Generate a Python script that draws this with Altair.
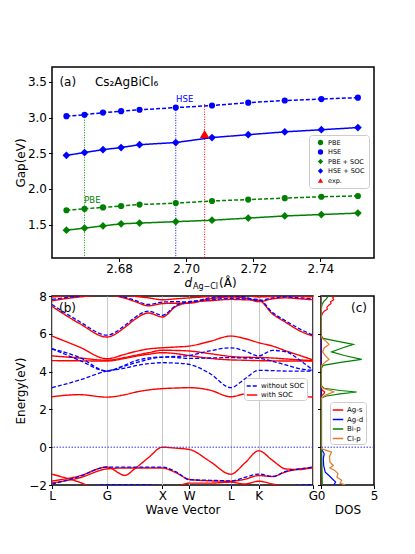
import altair as alt
import pandas as pd

FONT = "DejaVu Sans"

# ================= panel (a) data =================
d_agcl = [2.6643, 2.6697, 2.6752, 2.6806, 2.6861, 2.6969, 2.7077, 2.7185, 2.7294, 2.7403, 2.7512]
gap_pbe = [1.70, 1.72, 1.74, 1.76, 1.78, 1.80, 1.83, 1.85, 1.87, 1.89, 1.90]
gap_hse = [3.02, 3.04, 3.07, 3.09, 3.11, 3.14, 3.17, 3.21, 3.24, 3.26, 3.28]
gap_pbe_soc = [1.42, 1.45, 1.48, 1.51, 1.52, 1.54, 1.56, 1.59, 1.62, 1.64, 1.66]
gap_hse_soc = [2.47, 2.51, 2.55, 2.58, 2.62, 2.65, 2.72, 2.76, 2.80, 2.83, 2.86]
exp_d = [2.7055]
exp_gap = [2.77]
series_names = ["PBE", "HSE", "PBE + SOC", "HSE + SOC", "exp."]
series_colors = ["green", "blue", "green", "blue", "red"]
series_shapes = ["circle", "circle", "diamond", "diamond", "triangle-up"]
series_sizes = [38, 38, 60, 60, 90]
series_dash = [[4, 2], [4, 2], [1, 0], [1, 0], [1, 0]]

guide_d = [2.6697, 2.6969, 2.7055]
guide_top = [3.04, 3.14, 3.19]
guide_colors = ["green", "blue", "red"]
gap_axis = [1.03, 3.71]
d_axis = [2.660, 2.756]
a_ticks_x = [2.68, 2.70, 2.72, 2.74]
a_ticks_y = [1.5, 2.0, 2.5, 3.0, 3.5]

ann_text = ["HSE", "PBE"]
ann_d = [2.6970, 2.6696]
ann_gap = [3.26, 1.84]
ann_col = ["blue", "green"]

# ================= panel (b) data =================
k_path = [0.0, 0.105, 0.21, 0.28, 0.316, 0.37, 0.423, 0.475, 0.526, 0.605,
          0.685, 0.738, 0.792, 0.845, 0.896, 0.95, 1.0]
k_tick_pos = [0.0, 0.21, 0.423, 0.526, 0.685, 0.792, 1.0]
k_tick_lab = ["L", "G", "X", "W", "L", "K", "G"]
e_ticks = [-2, 0, 2, 4, 6, 8]

bands_soc = {
    "r1": [2.67, 2.78, 2.65, 2.78, 2.90, 3.03, 3.10, 3.13, 3.15, 3.02, 2.67, 2.82, 2.87, 2.85, 2.78, 2.70, 2.65],
    "r2": [4.58, 4.57, 4.56, 4.70, 4.80, 4.92, 5.00, 4.95, 4.85, 4.70, 4.62, 4.60, 4.58, 4.57, 4.56, 4.56, 4.56],
    "r3": [4.83, 4.72, 4.60, 4.75, 4.85, 5.00, 5.13, 5.12, 5.09, 4.95, 4.80, 4.76, 4.75, 4.72, 4.67, 4.62, 4.58],
    "r4": [5.88, 5.30, 4.68, 4.92, 5.05, 5.20, 5.26, 5.30, 5.35, 5.60, 5.88, 5.75, 5.53, 5.35, 5.10, 4.85, 4.62],
    "r5": [7.45, 6.55, 5.83, 6.35, 6.75, 7.10, 6.89, 7.45, 7.65, 7.75, 7.82, 7.80, 7.77, 7.05, 6.60, 6.15, 5.88],
    "r6": [7.75, 7.95, 8.05, 7.88, 7.72, 7.48, 7.60, 7.62, 7.62, 7.85, 7.95, 7.90, 7.70, 7.85, 7.90, 7.85, 7.80],
    "r7": [7.95, 8.05, 8.10, 8.02, 7.98, 7.90, 7.80, 7.85, 7.90, 7.98, 8.10, 8.05, 7.95, 7.98, 8.00, 7.98, 7.95],
    "va": [-1.43, -1.85, -2.40, -2.40, -2.40, -2.40, -2.40, -2.40, -2.40, -2.40, -2.40, -2.40, -2.40, -2.40, -2.40, -2.40, -2.40],
    "vb": [-1.79, -1.52, -1.05, -1.49, -1.15, -0.55, 0.00, -0.05, -0.12, -0.75, -1.43, -0.85, -0.19, -0.70, -1.15, -1.18, -1.05],
    "vc": [-1.89, -1.62, -1.15, -1.10, -1.10, -1.10, -1.10, -1.35, -1.70, -1.78, -1.80, -1.70, -1.50, -1.55, -1.30, -1.15, -1.10],
    "vd": [-2.20, -2.30, -2.40, -2.40, -2.40, -2.40, -2.30, -2.10, -1.90, -1.90, -1.85, -1.95, -1.80, -1.95, -2.10, -2.20, -2.30],
}
bands_nosoc = {
    "b1": [3.15, 3.55, 4.03, 4.18, 4.30, 4.42, 4.47, 4.45, 4.38, 3.90, 3.15, 3.60, 4.07, 4.05, 4.03, 4.03, 4.03],
    "b2": [5.21, 4.75, 4.03, 4.30, 4.45, 4.65, 4.77, 4.80, 4.85, 5.10, 5.26, 5.10, 4.83, 5.12, 5.05, 4.60, 4.07],
    "b3": [5.21, 4.60, 4.03, 4.35, 4.55, 4.72, 4.77, 4.75, 4.70, 4.72, 4.74, 4.72, 4.70, 4.55, 4.35, 4.15, 4.07],
    "b5": [7.55, 6.65, 5.93, 6.45, 6.85, 7.20, 6.98, 7.50, 7.70, 7.80, 7.88, 7.85, 7.82, 7.12, 6.68, 6.25, 5.93],
    "b6": [7.82, 8.00, 8.10, 7.93, 7.78, 7.55, 7.68, 7.70, 7.68, 7.90, 8.00, 7.95, 7.75, 7.90, 7.95, 7.90, 7.85],
    "bv1": [-1.95, -1.55, -1.05, -1.05, -1.05, -1.05, -1.05, -1.30, -1.72, -1.75, -1.78, -1.60, -1.42, -1.55, -1.28, -1.15, -1.05],
    "bv2": [-2.30, -2.15, -1.98, -1.98, -1.98, -1.99, -2.05, -2.20, -2.30, -2.30, -2.00, -2.20, -2.30, -2.20, -2.05, -2.00, -1.98],
}
soc_names = ["without SOC", "with SOC"]
soc_colors = ["blue", "red"]

# ================= panel (c) data =================
orb_names = ["Ag-s", "Ag-d", "Bi-p", "Cl-p"]
orb_colors = ["red", "blue", "green", "#e07b2a"]
ags_E = [8.0, 7.9, 7.8, 7.7, 7.6, 7.5, 7.4, 7.3, 7.2, 7.1, 7.0, 6.85, 6.7, 3.1, 3.0, 2.92, 2.85, 2.75, 2.65, -2.0]
ags_D = [1.3, 1.1, 1.2, 0.9, 0.95, 0.7, 0.55, 0.6, 0.3, 0.15, 0.08, 0.02, 0.0, 0.0, 0.15, 0.35, 0.3, 0.1, 0.0, 0.0]
agd_E = [8.0, 0.05, -0.1, -0.35, -0.6, -0.97, -1.2, -1.32, -1.5, -1.67, -1.85, -2.0]
agd_D = [0.0, 0.0, 0.05, 0.3, 0.22, 0.25, 0.35, 0.4, 0.75, 1.06, 1.38, 1.2]
bip_E = [8.0, 7.85, 7.7, 7.55, 7.4, 7.2, 5.9, 5.76, 5.6, 5.44, 5.25, 5.04, 4.85, 4.65, 4.5, 4.33, 4.2,
         3.25, 3.12, 3.0, 2.92, 2.82, 2.71, 2.6, 0.1, -2.0]
bip_D = [0.7, 0.5, 0.25, 0.1, 0.05, 0.02, 0.02, 0.2, 1.6, 3.05, 2.0, 1.0, 2.2, 3.84, 2.0, 0.2, 0.05,
         0.02, 0.3, 1.8, 3.37, 1.8, 0.5, 0.05, 0.05, 0.12]
clp_E = [8.0, 5.9, 5.76, 5.6, 5.44, 5.25, 5.04, 4.85, 4.65, 4.5, 4.33, 4.2, 3.2, 3.1, 3.0, 2.92, 2.82, 2.71,
         2.6, 2.5, 0.05, -0.09, -0.26, -0.5, -0.79, -0.97, -1.1, -1.23, -1.4, -1.59, -1.75, -1.9, -2.0]
clp_D = [0.0, 0.0, 0.1, 0.5, 0.75, 0.3, 0.15, 0.4, 0.75, 0.4, 0.05, 0.0, 0.0, 0.3, 0.9, 1.2, 0.7, 0.3,
         0.05, 0.0, 0.0, 0.06, 1.0, 0.8, 0.85, 1.16, 0.85, 1.3, 1.6, 1.5, 1.95, 1.8, 2.3]
dos_axis = [0, 5]

# ================= build panel (a) =================
rows_a = []
for name, vals in zip(series_names[:4], [gap_pbe, gap_hse, gap_pbe_soc, gap_hse_soc]):
    for dv, gv in zip(d_agcl, vals):
        rows_a.append({"d": dv, "gap": gv, "series": name})
for dv, gv in zip(exp_d, exp_gap):
    rows_a.append({"d": dv, "gap": gv, "series": "exp."})
df_a = pd.DataFrame(rows_a)

xa_scale = alt.Scale(domain=d_axis, nice=False, zero=False)
ya_scale = alt.Scale(domain=gap_axis, nice=False, zero=False)
xa_axis = alt.Axis(values=a_ticks_x, format=".2f", title=None, labelFontSize=12)
ya_axis = alt.Axis(values=a_ticks_y, format=".1f", title="Gap(eV)", titleFontSize=12,
                   labelFontSize=12, titleX=-28, titleBaseline="alphabetic", titleAngle=270)
XA = alt.X("d:Q", scale=xa_scale, axis=xa_axis)
YA = alt.Y("gap:Q", scale=ya_scale, axis=ya_axis)

layers_a = []
for dv, tv, col in zip(guide_d, guide_top, guide_colors):
    gdf = pd.DataFrame({"d": [dv], "gap": [tv], "bottom": [gap_axis[0]]})
    layers_a.append(alt.Chart(gdf).mark_rule(color=col, strokeDash=[1, 1.5], strokeWidth=1)
                    .encode(x=XA, y=YA, y2="bottom:Q"))

for name, col, dash in zip(series_names[:4], series_colors[:4], series_dash[:4]):
    layers_a.append(alt.Chart(df_a[df_a["series"] == name]).mark_line(
        strokeWidth=1.5, color=col, strokeDash=dash).encode(x=XA, y=YA))

leg_a = alt.Legend(title=None, orient="none", legendX=257, legendY=68, labelFontSize=6.5, labelFont=FONT,
                   symbolSize=28, fillColor="white", strokeColor="#cccccc", padding=4, rowPadding=2.5,
                   cornerRadius=3, symbolOffset=4)
color_a = alt.Scale(domain=series_names, range=series_colors)
shape_a = alt.Scale(domain=series_names, range=series_shapes)
for size_val in sorted(set(series_sizes)):
    names_here = [n for n, s in zip(series_names, series_sizes) if s == size_val]
    layers_a.append(alt.Chart(df_a[df_a["series"].isin(names_here)]).mark_point(
        filled=True, opacity=1, size=size_val).encode(
        x=XA, y=YA,
        color=alt.Color("series:N", scale=color_a, legend=leg_a),
        shape=alt.Shape("series:N", scale=shape_a, legend=leg_a)))

for t, dv, gv, col in zip(ann_text, ann_d, ann_gap, ann_col):
    layers_a.append(alt.Chart(pd.DataFrame({"d": [dv], "gap": [gv], "t": [t]}))
                    .mark_text(align="left", baseline="middle", fontSize=8.5, font=FONT, color=col)
                    .encode(x=XA, y=YA, text="t:N"))

df_title_a = pd.DataFrame({"d": [2.6622, 2.6728], "gap": [3.50, 3.50], "t": ["(a)", "Cs₂AgBiCl₆"]})
layers_a.append(alt.Chart(df_title_a).mark_text(align="left", baseline="middle", fontSize=12, font=FONT,
                                                color="black").encode(x=XA, y=YA, text="t:N"))

layers_a.append(alt.Chart(pd.DataFrame({"t": ["d"]})).mark_text(
    fontSize=12, fontStyle="italic", font=FONT, align="right", baseline="middle", color="black")
    .encode(text="t:N", x=alt.value(140), y=alt.value(216)))
layers_a.append(alt.Chart(pd.DataFrame({"t": ["Ag−Cl"]})).mark_text(
    fontSize=8, font=FONT, align="left", baseline="middle", color="black")
    .encode(text="t:N", x=alt.value(141), y=alt.value(220)))
layers_a.append(alt.Chart(pd.DataFrame({"t": ["(Å)"]})).mark_text(
    fontSize=12, font=FONT, align="left", baseline="middle", color="black")
    .encode(text="t:N", x=alt.value(167), y=alt.value(216)))

panel_a = alt.layer(*layers_a).properties(width=322, height=191)

# ================= build panel (b) =================
rows_b = []
for name, vals in bands_soc.items():
    for kv, ev in zip(k_path, vals):
        rows_b.append({"k": kv, "E": ev, "band": name, "soc": "with SOC"})
for name, vals in bands_nosoc.items():
    for kv, ev in zip(k_path, vals):
        rows_b.append({"k": kv, "E": ev, "band": name, "soc": "without SOC"})
df_b = pd.DataFrame(rows_b)

label_expr = " : ".join(f"abs(datum.value - {p}) < 0.001 ? '{l}'" for p, l in zip(k_tick_pos, k_tick_lab)) + " : ''"
xb_scale = alt.Scale(domain=[0, 1], nice=False, zero=False)
yb_scale = alt.Scale(domain=[-2, 8], nice=False, zero=False)
xb_axis = alt.Axis(values=k_tick_pos, labelExpr=label_expr, grid=True, gridColor="#c8c8c8", gridWidth=1,
                   title="Wave Vector", titleFontSize=12, labelFontSize=12, labelOverlap=False,
                   titlePadding=3, labelFlush=False)
yb_axis = alt.Axis(values=e_ticks, labelExpr="replace(toString(datum.value), '-', '−')", title="Energy(eV)",
                   titleFontSize=12, labelFontSize=12, titleX=-28, titleBaseline="alphabetic", titleAngle=270)
XB = alt.X("k:Q", scale=xb_scale, axis=xb_axis)
YB = alt.Y("E:Q", scale=yb_scale, axis=yb_axis)

leg_b = alt.Legend(title=None, orient="none", legendX=192, legendY=82, labelFontSize=7, labelFont=FONT,
                   symbolType="stroke", symbolSize=110, symbolStrokeWidth=1.5, fillColor="white",
                   strokeColor="#cccccc", padding=2, rowPadding=0, cornerRadius=3, labelOffset=3)
color_b = alt.Color("soc:N", scale=alt.Scale(domain=soc_names, range=soc_colors), legend=leg_b)
dash_b = alt.StrokeDash("soc:N", scale=alt.Scale(domain=soc_names, range=[[4, 2], [1, 0]]), legend=leg_b)

red_lines = alt.Chart(df_b[df_b["soc"] == "with SOC"]).mark_line(
    clip=True, interpolate="monotone", strokeWidth=1.4).encode(x=XB, y=YB, color=color_b, strokeDash=dash_b, detail="band:N")
blue_lines = alt.Chart(df_b[df_b["soc"] == "without SOC"]).mark_line(
    clip=True, interpolate="monotone", strokeWidth=1.3).encode(x=XB, y=YB, color=color_b, strokeDash=dash_b, detail="band:N")
zero_b = alt.Chart(pd.DataFrame({"E": [0]})).mark_rule(color="#3333ff", strokeDash=[1.5, 1.5], strokeWidth=1).encode(y=YB)
lab_b = alt.Chart(pd.DataFrame({"t": ["(b)"]})).mark_text(fontSize=12, font=FONT, align="left", baseline="middle",
                                                         color="black").encode(text="t:N", x=alt.value(7), y=alt.value(12))
panel_b = alt.layer(red_lines, blue_lines, zero_b, lab_b).properties(width=261, height=189)

# ================= build panel (c) =================
rows_c = []
for name, es, ds in zip(orb_names, [ags_E, agd_E, bip_E, clp_E], [ags_D, agd_D, bip_D, clp_D]):
    for i, (ev, dv) in enumerate(zip(es, ds)):
        rows_c.append({"E": ev, "dos": dv, "orb": name, "i": i})
df_c = pd.DataFrame(rows_c)

xc_axis = alt.Axis(values=dos_axis, format="d", title="DOS", titleFontSize=12, labelFontSize=12,
                   titlePadding=3, labelFlush=False)
yc_axis = alt.Axis(values=e_ticks, labels=False, title=None)
XC = alt.X("dos:Q", scale=alt.Scale(domain=dos_axis, nice=False, zero=False), axis=xc_axis)
YC = alt.Y("E:Q", scale=alt.Scale(domain=[-2, 8], nice=False, zero=False), axis=yc_axis)
leg_c = alt.Legend(title=None, orient="none", legendX=9, legendY=106, labelFontSize=7, labelFont=FONT,
                   symbolType="stroke", symbolSize=110, symbolStrokeWidth=1.5, fillColor="white",
                   strokeColor="#cccccc", padding=2, rowPadding=0.5, cornerRadius=3, labelOffset=3)
dos_lines = alt.Chart(df_c).mark_line(clip=True, strokeWidth=1.2).encode(
    x=XC, y=YC, color=alt.Color("orb:N", scale=alt.Scale(domain=orb_names, range=orb_colors), legend=leg_c),
    order="i:Q", detail="orb:N")
zero_c = alt.Chart(pd.DataFrame({"E": [0]})).mark_rule(color="#3333ff", strokeDash=[1.5, 1.5], strokeWidth=1).encode(y=YC)
lab_c = alt.Chart(pd.DataFrame({"t": ["(c)"]})).mark_text(fontSize=12, font=FONT, align="left", baseline="middle",
                                                         color="black").encode(text="t:N", x=alt.value(30), y=alt.value(12))
panel_c = alt.layer(dos_lines, zero_c, lab_c).properties(width=53, height=189)

# ================= assemble =================
bottom = alt.hconcat(panel_b, panel_c, spacing=8, bounds="flush").resolve_scale(
    color="independent", strokeDash="independent").resolve_legend(color="independent", strokeDash="independent")

chart = alt.vconcat(panel_a, bottom, spacing=38, bounds="flush").resolve_scale(
    color="independent", shape="independent", strokeDash="independent"
).resolve_legend(
    color="independent", shape="independent", strokeDash="independent"
).properties(
    padding={"left": 5, "top": 58, "right": 4, "bottom": 4}, background="white"
).configure(font=FONT).configure_axis(
    labelFont=FONT, titleFont=FONT, labelColor="black", titleColor="black", tickColor="black",
    domain=False, grid=False, tickSize=3.5, titleFontWeight="normal", labelPadding=2
).configure_view(stroke="black", strokeWidth=1.5).configure_legend(labelFont=FONT)

chart.save("out.html", embed_options={"renderer": "svg", "actions": False})
